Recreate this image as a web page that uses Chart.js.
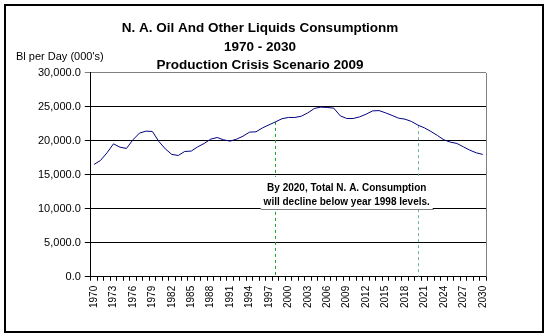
<!DOCTYPE html>
<html>
<head>
<meta charset="utf-8">
<script src="https://cdn.jsdelivr.net/npm/chart.js@4"></script>
<style>
  html, body { margin: 0; padding: 0; background: #fff; }
  #wrap { position: relative; width: 552px; height: 336px; }
  #frame { position: absolute; left: 4px; top: 4px; width: 536px; height: 325px; border: 2px solid #000; pointer-events: none; }
</style>
</head>
<body>
<div id="wrap">
  <canvas id="oilChart" width="552" height="336"></canvas>
  <div id="frame"></div>
</div>
<script>
// N. A. oil consumption, Bl per day (000's), 1970 - 2030

const years = [];
for (let y = 1970; y <= 2030; y++) years.push(String(y));

const consumption = [
  16530, 17120, 18240, 19560, 19070, 18880, 20150, 21130, 21430, 21380,
  19910, 18820, 18000, 17850, 18440, 18490, 19120, 19620, 20250, 20490,
  20150, 19960, 20250, 20690, 21280, 21330, 21910, 22350, 22790, 23250,
  23440, 23440, 23630, 24120, 24760, 24960, 24910, 24810, 23680, 23290,
  23290, 23530, 23930, 24410, 24450, 24120, 23740, 23340, 23190, 22850,
  22310, 21910, 21380, 20790, 20150, 19810, 19620, 19120, 18630, 18240,
  18000
];

const yTicks = [0, 5000, 10000, 15000, 20000, 25000, 30000];
const markerYears = ['1998', '2020'];
const markerColors = ['#1aa31a', '#6bb5a3'];
const titleLines = ['N. A. Oil And Other Liquids Consumptionm', '1970 - 2030', 'Production Crisis Scenario 2009'];
const noteLines = ['By 2020, Total N. A. Consumption', 'will decline below year 1998 levels.'];
const axisTitle = "Bl per Day (000's)";

const font = 'Arial, "Liberation Sans", sans-serif';

// dashed year markers, note box, plot border, axis caption
const extras = {
  id: 'extras',
  beforeDatasetsDraw(chart) {
    const { ctx, chartArea, scales: { x, y } } = chart;
    ctx.save();
    // right plot border
    ctx.strokeStyle = '#808080';
    ctx.lineWidth = 1;
    ctx.beginPath();
    ctx.moveTo(Math.round(chartArea.right) + 0.5, chartArea.top);
    ctx.lineTo(Math.round(chartArea.right) + 0.5, chartArea.bottom);
    ctx.stroke();

    // marker lines
    markerYears.forEach((yr, k) => {
      const i = years.indexOf(yr);
      const px = Math.round(x.getPixelForValue(i)) + 0.5;
      ctx.strokeStyle = markerColors[k];
      ctx.setLineDash([3, 3]);
      ctx.beginPath();
      ctx.moveTo(px, y.getPixelForValue(consumption[i]));
      ctx.lineTo(px, y.getPixelForValue(0));
      ctx.stroke();
    });
    ctx.setLineDash([]);

    // note box
    const xa = x.getPixelForValue(years.indexOf(markerYears[0]));
    const xb = x.getPixelForValue(years.indexOf(markerYears[1]));
    const cx = (xa + xb) / 2;
    const top = y.getPixelForValue(14700);
    const bot = Math.round(y.getPixelForValue(10000)) + 0.5;
    ctx.fillStyle = '#fff';
    ctx.fillRect(cx - 86, top, 172, bot - top);
    ctx.strokeStyle = '#808080';
    ctx.beginPath();
    ctx.moveTo(cx - 86, bot);
    ctx.lineTo(cx + 87, bot);
    ctx.stroke();
    ctx.fillStyle = '#000';
    ctx.font = 'bold 10px ' + font;
    ctx.textAlign = 'center';
    ctx.textBaseline = 'middle';
    ctx.fillText(noteLines[0], cx, top + 11);
    ctx.fillText(noteLines[1], cx, top + 25);

    // axis caption
    ctx.font = '11px ' + font;
    ctx.textAlign = 'left';
    ctx.fillText(axisTitle, 16, 57);
    ctx.restore();
  }
};

new Chart(document.getElementById('oilChart'), {
  type: 'line',
  data: {
    labels: years,
    datasets: [{
      data: consumption,
      borderColor: '#000080',
      borderWidth: 1,
      pointRadius: 0,
      tension: 0,
      fill: false
    }]
  },
  options: {
    responsive: false,
    animation: false,
    layout: { padding: { left: 34, right: 66, top: 10, bottom: 23 } },
    plugins: {
      legend: { display: false },
      tooltip: { enabled: false },
      title: {
        display: true,
        text: titleLines,
        color: '#000',
        font: { family: font, size: 13.5, weight: 'bold', lineHeight: 1.38 },
        padding: { top: 9, bottom: -2 }
      }
    },
    scales: {
      x: {
        offset: true,
        grid: { offset: true, drawOnChartArea: false, color: '#000', tickLength: 4 },
        border: { color: '#000' },
        ticks: {
          autoSkip: false,
          maxRotation: 90,
          minRotation: 90,
          padding: 5,
          color: '#000',
          font: { family: font, size: 10 },
          callback: (v, i) => (i % 3 === 0 ? years[i] : '')
        }
      },
      y: {
        min: 0,
        max: 30000,
        afterBuildTicks: s => { s.ticks = yTicks.map(v => ({ value: v })); },
        grid: {
          color: c => (c.tick && c.tick.value === 30000 ? '#808080' : '#000'),
          tickLength: 6
        },
        border: { color: '#000' },
        ticks: {
          padding: 4,
          color: '#000',
          font: { family: font, size: 11 },
          callback: v => v.toLocaleString('en-US', { minimumFractionDigits: 1, maximumFractionDigits: 1 })
        }
      }
    }
  },
  plugins: [extras]
});
</script>
</body>
</html>
